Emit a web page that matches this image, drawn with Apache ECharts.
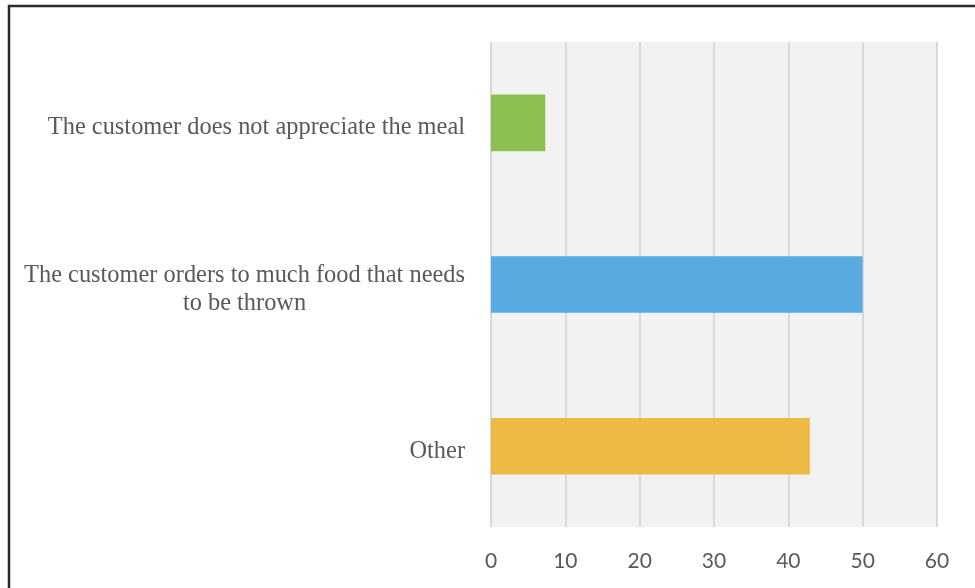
<!DOCTYPE html>
<html>
<head>
<meta charset="utf-8">
<script src="https://cdn.jsdelivr.net/npm/echarts@6/dist/echarts.min.js"></script>
<style>
  html, body { margin: 0; padding: 0; background: #fff; }
  #chart { width: 975px; height: 588px; }
</style>
</head>
<body>
<div id="chart"></div>
<script>
// Données
const categories = [
  'The customer does not appreciate the meal',
  'The customer orders to much food that needs\nto be thrown',
  'Other'
];
const values = [7.3, 50, 42.9];
const barColors = ['#8cc152', '#59aae0', '#eeb944'];
const xTicks = [0, 10, 20, 30, 40, 50, 60];

const chart = echarts.init(document.getElementById('chart'), null, { renderer: 'canvas' });

// Chaque ligne du libellé est centrée (rich text)
function labelFormatter(v) {
  return v.split('\n').map(l => '{c|' + l + '}').join('\n');
}

chart.setOption({
  backgroundColor: '#ffffff',
  animation: false,
  graphic: [{
    type: 'rect',
    shape: { x: 9, y: 6, width: 1100, height: 800 },
    style: { fill: 'none', stroke: '#2b2b2b', lineWidth: 2.5 },
    silent: true
  }],
  grid: {
    left: 491, right: 38, top: 42, bottom: 61,
    show: true, backgroundColor: '#f2f2f2', borderWidth: 0
  },
  xAxis: {
    type: 'value',
    min: xTicks[0],
    max: xTicks[xTicks.length - 1],
    interval: 10,
    axisLine: { show: false },
    axisTick: { show: false },
    splitLine: { show: true, lineStyle: { color: '#d9d9d9', width: 2 } },
    axisLabel: {
      margin: 24,
      color: '#595959',
      fontFamily: 'Lato',
      fontSize: 21
    }
  },
  yAxis: {
    type: 'category',
    inverse: true,
    data: categories,
    axisLine: { show: false },
    axisTick: { show: false },
    axisLabel: {
      margin: 26,
      padding: [10, 0, 0, 0],
      formatter: labelFormatter,
      rich: {
        c: {
          align: 'center',
          color: '#595959',
          fontFamily: 'Liberation Serif',
          fontSize: 24.4,
          lineHeight: 28
        }
      }
    }
  },
  series: [{
    type: 'bar',
    barWidth: '35%',
    data: values.map((v, i) => ({ value: v, itemStyle: { color: barColors[i] } }))
  }]
});
</script>
</body>
</html>
